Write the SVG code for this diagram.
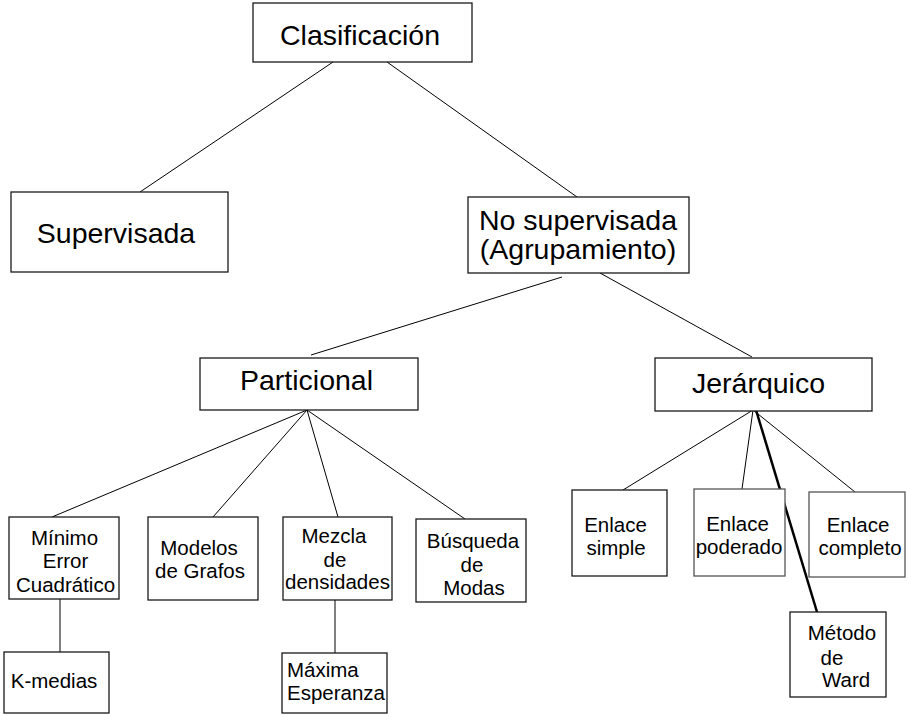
<svg xmlns="http://www.w3.org/2000/svg" width="910" height="715" viewBox="0 0 910 715">
<style>
.box{fill:#fff;stroke:#1a1a1a;stroke-width:1.3}
.box2{fill:#fff;stroke:#555;stroke-width:1.3}
.t{font-family:"Liberation Sans",Arial,sans-serif;fill:#000;text-anchor:middle}
.big{font-size:28.5px}
.sm{font-size:20.5px}
.ln{stroke:#000;stroke-width:1;fill:none}
.gl{stroke:#808080;stroke-width:2;fill:none}
.tk{stroke:#000;stroke-width:2.5;fill:none}
</style>
<rect width="910" height="715" fill="#fff"/>
<g id="connectors">
<line class="ln" x1="333" y1="62" x2="140" y2="192"/>
<line class="ln" x1="387" y1="62" x2="577" y2="197"/>
<line class="ln" x1="562" y1="277" x2="311" y2="355"/>
<line class="ln" x1="600" y1="273" x2="752" y2="357"/>
<line class="ln" x1="307" y1="410" x2="52" y2="517"/>
<line class="ln" x1="307" y1="410" x2="213" y2="517"/>
<line class="ln" x1="307" y1="410" x2="338" y2="517"/>
<line class="ln" x1="307" y1="410" x2="465" y2="519"/>
<line class="gl" x1="60" y1="599" x2="60" y2="652"/>
<line class="gl" x1="335" y1="600" x2="335" y2="653"/>
<line class="ln" x1="753" y1="410" x2="623" y2="490"/>
<line class="ln" x1="753" y1="410" x2="742" y2="489"/>
<line class="ln" x1="753" y1="410" x2="855" y2="492"/>
<line class="tk" x1="756" y1="410" x2="817" y2="612"/>
</g>
<g id="clasificacion"><rect class="box" x="253" y="3" width="219" height="59"/><text class="t big" x="360" y="45">Clasificación</text></g>
<g id="supervisada"><rect class="box" x="11" y="192" width="217" height="80"/><text class="t big" x="116" y="243">Supervisada</text></g>
<g id="nosupervisada"><rect class="box" x="468" y="197" width="221" height="76"/><text class="t big" x="578" y="230">No supervisada</text><text class="t big" x="578" y="259">(Agrupamiento)</text></g>
<g id="particional"><rect class="box" x="200" y="358" width="218" height="52"/><text class="t big" x="306.5" y="390">Particional</text></g>
<g id="jerarquico"><rect class="box" x="655" y="358" width="217" height="53"/><text class="t big" x="758.5" y="393">Jerárquico</text></g>
<g id="minimo"><rect class="box" x="9" y="517" width="110" height="82"/><text class="t sm" x="64.5" y="545">Mínimo</text><text class="t sm" x="65.5" y="568">Error</text><text class="t sm" x="65.5" y="592">Cuadrático</text></g>
<g id="modelos"><rect class="box" x="148" y="517" width="110" height="83"/><text class="t sm" x="199" y="555">Modelos</text><text class="t sm" x="200" y="578">de Grafos</text></g>
<g id="mezcla"><rect class="box" x="283" y="517" width="109" height="83"/><text class="t sm" x="334" y="543">Mezcla</text><text class="t sm" x="335" y="567">de</text><text class="t sm" x="337.5" y="589">densidades</text></g>
<g id="busqueda"><rect class="box" x="416" y="519" width="110" height="83"/><text class="t sm" x="473" y="548">Búsqueda</text><text class="t sm" x="472" y="572">de</text><text class="t sm" x="474" y="595">Modas</text></g>
<g id="kmedias"><rect class="box" x="4" y="652" width="105" height="61"/><text class="t sm" x="54" y="688">K-medias</text></g>
<g id="maxima"><rect class="box" x="282" y="653" width="105" height="60"/><text class="t sm" x="287" y="677" text-anchor="start" style="text-anchor:start">Máxima</text><text class="t sm" x="287" y="700" style="text-anchor:start">Esperanza</text></g>
<g id="enlacesimple"><rect class="box" x="572" y="490" width="95" height="86"/><text class="t sm" x="615.5" y="532">Enlace</text><text class="t sm" x="616" y="555">simple</text></g>
<g id="enlacepoderado"><rect class="box2" x="694" y="489" width="91" height="87"/><text class="t sm" x="737.5" y="531">Enlace</text><text class="t sm" x="739" y="554">poderado</text></g>
<g id="enlacecompleto"><rect class="box2" x="809" y="492" width="96" height="85"/><text class="t sm" x="858" y="532">Enlace</text><text class="t sm" x="860" y="555">completo</text></g>
<g id="ward"><rect class="box" x="790" y="612" width="96" height="85"/><text class="t sm" x="842" y="640">Método</text><text class="t sm" x="832" y="665">de</text><text class="t sm" x="846" y="687">Ward</text></g>
</svg>
